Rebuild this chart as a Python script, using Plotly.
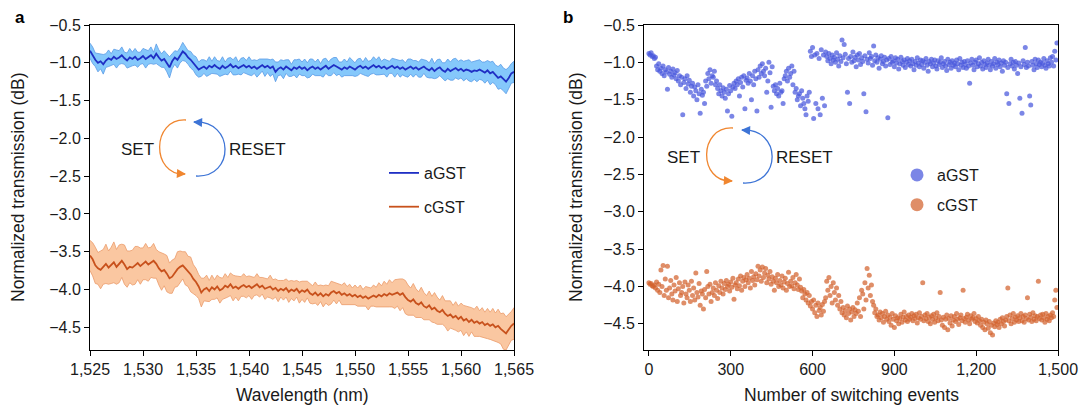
import numpy as np
import plotly.graph_objects as go

W, H = 1083, 410

# ---------------- Panel a data (wavelength sweep, 0.25 nm step) ----------------
wl_start, wl_step = 1525.0, 0.25
aGST_a = [
    -0.84, -0.90, -0.96, -1.00, -0.98, -1.02, -0.97, -0.94, -0.96, -0.92, -0.95, -0.93,
    -0.90, -0.94, -0.97, -0.93, -0.95, -0.92, -0.96, -0.94,
    -0.91, -0.95, -0.93, -0.90, -0.94, -0.88, -0.93, -0.97, -0.95, -1.00, -1.06, -0.98,
    -0.93, -0.96, -0.90, -0.85, -0.88, -0.93, -0.96, -1.00,
    -1.04, -1.09, -1.07, -1.05, -1.08, -1.04, -1.06, -1.03, -1.06, -1.08, -1.04, -1.07,
    -1.05, -1.02, -1.06, -1.04, -1.07, -1.05, -1.03, -1.06,
    -1.04, -1.07, -1.05, -1.08, -1.05, -1.03, -1.06, -1.04, -1.07, -1.05, -1.12, -1.08,
    -1.06, -1.09, -1.05, -1.07, -1.10, -1.06, -1.08, -1.05,
    -1.08, -1.06, -1.10, -1.07, -1.05, -1.08, -1.06, -1.09, -1.07, -1.04, -1.08, -1.06,
    -1.03, -1.05, -1.07, -1.09, -1.06, -1.08, -1.05, -1.07,
    -1.09, -1.06, -1.04, -1.07, -1.05, -1.08, -1.06, -1.03, -1.06, -1.04, -1.07, -1.05,
    -1.08, -1.06, -1.04, -1.07, -1.05, -1.08, -1.06, -1.09,
    -1.07, -1.05, -1.08, -1.06, -1.09, -1.07, -1.05, -1.08, -1.10, -1.07, -1.11, -1.08,
    -1.06, -1.10, -1.12, -1.08, -1.11, -1.09, -1.07, -1.10,
    -1.08, -1.11, -1.09, -1.10, -1.12, -1.10, -1.11, -1.09, -1.11, -1.13, -1.10, -1.14,
    -1.12, -1.16, -1.20, -1.18, -1.22, -1.25, -1.20, -1.14,
    -1.12,
]
aGST_a_err = [
    0.10, 0.11, 0.09, 0.12, 0.10, 0.13, 0.09, 0.11, 0.08, 0.10, 0.12, 0.09, 0.11, 0.08, 0.10, 0.12, 0.09, 0.11, 0.10, 0.08,
    0.10, 0.12, 0.09, 0.11, 0.08, 0.13, 0.10, 0.09, 0.11, 0.12, 0.14, 0.10, 0.09, 0.11, 0.10, 0.12, 0.10, 0.09, 0.11, 0.10,
    0.12, 0.10, 0.11, 0.09, 0.10, 0.12, 0.08, 0.11, 0.09, 0.10, 0.12, 0.08, 0.11, 0.09, 0.10, 0.12, 0.08, 0.11, 0.10, 0.09,
    0.12, 0.10, 0.09, 0.11, 0.10, 0.08, 0.12, 0.09, 0.11, 0.10, 0.13, 0.09, 0.10, 0.12, 0.09, 0.11, 0.08, 0.10, 0.12, 0.10,
    0.09, 0.11, 0.10, 0.12, 0.10, 0.09, 0.11, 0.08, 0.12, 0.10, 0.09, 0.11, 0.10, 0.12, 0.08, 0.10, 0.11, 0.09, 0.12, 0.10,
    0.09, 0.11, 0.10, 0.08, 0.12, 0.10, 0.09, 0.11, 0.10, 0.12, 0.09, 0.10, 0.11, 0.08, 0.10, 0.12, 0.09, 0.11, 0.10, 0.09,
    0.12, 0.10, 0.11, 0.09, 0.10, 0.12, 0.09, 0.11, 0.10, 0.13, 0.10, 0.12, 0.11, 0.10, 0.12, 0.13, 0.12, 0.14, 0.13, 0.12,
    0.12, 0.13, 0.12, 0.14, 0.13, 0.12, 0.14, 0.13, 0.12, 0.14, 0.13, 0.15, 0.14, 0.13, 0.15, 0.16, 0.15, 0.16, 0.14, 0.13,
    0.14,
]
cGST_a = [
    -3.55, -3.60, -3.68, -3.72, -3.74, -3.70, -3.66, -3.71, -3.68, -3.64, -3.70, -3.66,
    -3.62, -3.67, -3.73, -3.70, -3.71, -3.68, -3.65, -3.69,
    -3.66, -3.63, -3.67, -3.64, -3.62, -3.66, -3.72, -3.76, -3.74, -3.79, -3.85, -3.83,
    -3.78, -3.73, -3.70, -3.68, -3.72, -3.76, -3.80, -3.86,
    -3.90, -3.96, -4.04, -4.00, -3.98, -4.02, -3.97, -4.00, -3.96, -4.01, -3.99, -3.95,
    -3.97, -3.93, -3.98, -3.96, -3.99, -3.96, -3.94, -3.97,
    -3.95, -3.98, -3.96, -3.93, -3.97, -3.95, -3.99, -3.98, -3.96, -4.00, -3.98, -4.02,
    -3.99, -4.01, -3.98, -4.03, -4.00, -4.02, -3.99, -4.04,
    -4.01, -4.03, -4.00, -4.05, -4.07, -4.04, -4.08, -4.05, -4.09, -4.06, -4.08, -4.04,
    -4.02, -4.05, -4.03, -4.07, -4.05, -4.08, -4.06, -4.09,
    -4.07, -4.10, -4.08, -4.11, -4.09, -4.12, -4.10, -4.08, -4.10, -4.07, -4.09, -4.06,
    -4.08, -4.05, -4.07, -4.06, -4.04, -4.07, -4.05, -4.10,
    -4.14, -4.16, -4.13, -4.18, -4.20, -4.17, -4.22, -4.24, -4.21, -4.26, -4.24, -4.28,
    -4.30, -4.27, -4.32, -4.35, -4.33, -4.37, -4.35, -4.39,
    -4.36, -4.41, -4.39, -4.43, -4.40, -4.44, -4.42, -4.45, -4.43, -4.47, -4.45, -4.48,
    -4.46, -4.50, -4.48, -4.52, -4.55, -4.58, -4.53, -4.48,
    -4.45,
]
cGST_a_err = [
    0.20, 0.22, 0.24, 0.21, 0.25, 0.23, 0.26, 0.22, 0.24, 0.27, 0.23, 0.25, 0.22, 0.26, 0.24, 0.21, 0.23, 0.25, 0.22, 0.24,
    0.21, 0.24, 0.22, 0.20, 0.23, 0.19, 0.22, 0.25, 0.21, 0.24, 0.20, 0.22, 0.19, 0.23, 0.21, 0.18, 0.22, 0.20, 0.23, 0.19,
    0.18, 0.16, 0.19, 0.15, 0.17, 0.14, 0.16, 0.13, 0.15, 0.17, 0.14, 0.16, 0.13, 0.15, 0.17, 0.14, 0.16, 0.13, 0.15, 0.14,
    0.13, 0.15, 0.12, 0.14, 0.13, 0.11, 0.14, 0.12, 0.15, 0.13, 0.12, 0.14, 0.11, 0.13, 0.12, 0.14, 0.12, 0.13, 0.11, 0.14,
    0.12, 0.14, 0.11, 0.13, 0.12, 0.14, 0.13, 0.11, 0.14, 0.12, 0.13, 0.15, 0.12, 0.14, 0.11, 0.13, 0.14, 0.12, 0.13, 0.11,
    0.13, 0.12, 0.14, 0.11, 0.13, 0.15, 0.12, 0.14, 0.13, 0.16, 0.14, 0.17, 0.15, 0.18, 0.16, 0.19, 0.18, 0.21, 0.19, 0.22,
    0.20, 0.18, 0.21, 0.19, 0.17, 0.20, 0.18, 0.16, 0.19, 0.17, 0.20, 0.18, 0.16, 0.19, 0.17, 0.20, 0.18, 0.16, 0.19, 0.17,
    0.18, 0.20, 0.17, 0.19, 0.16, 0.18, 0.20, 0.17, 0.19, 0.17, 0.20, 0.18, 0.21, 0.19, 0.22, 0.20, 0.24, 0.22, 0.20, 0.19,
    0.21,
]

# ---------------- Panel b data (one point every 4 switching events) ----------------
event_step = 4
aGST_b = [
    -0.88, -0.90, -0.87, -0.92, -0.91, -0.95, -0.93, -1.05, -1.10, -1.02,
    -1.12, -1.08, -1.15, -1.05, -1.18, -1.10, -1.13, -1.36, -1.07, -1.16,
    -1.12, -1.20, -1.09, -1.17, -1.14, -1.22, -1.11, -1.25, -1.18, -1.30,
    -1.20, -1.70, -1.27, -1.22, -1.35, -1.18, -1.29, -1.24, -1.40, -1.32,
    -1.28, -1.45, -1.33, -1.38, -1.50, -1.30, -1.42, -1.68, -1.36, -1.44,
    -1.40, -1.55, -1.25, -1.32, -1.15, -1.22, -1.10, -1.28, -1.18, -1.20,
    -1.12, -1.30, -1.25, -1.35, -1.42, -1.30, -1.38, -1.45, -1.34, -1.40,
    -1.48, -1.36, -1.65, -1.42, -1.31, -1.38, -1.72, -1.33, -1.28, -1.35,
    -1.25, -1.30, -1.22, -1.45, -1.27, -1.20, -1.33, -1.18, -1.62, -1.24,
    -1.21, -1.28, -1.15, -1.25, -1.50, -1.18, -1.30, -1.12, -1.22, -1.65,
    -1.10, -1.20, -1.05, -1.15, -1.02, -1.12, -1.18, -1.08, -1.40, -1.25,
    -1.00, -1.14, -1.60, -1.06, -1.32, -1.38, -1.30, -1.42, -1.35, -1.45,
    -1.28, -1.40, -1.38, -1.55, -1.22, -1.18, -1.12, -1.25, -1.08, -1.20,
    -1.15, -1.05, -1.30, -1.12, -1.40, -1.35, -1.50, -1.45, -1.42, -1.58,
    -1.38, -1.48, -1.55, -1.62, -1.70, -1.45, -1.52, -1.40, -0.85, -0.92,
    -0.80, -1.75, -0.90, -1.55, -0.88, -1.62, -0.95, -1.70, -0.83, -1.48,
    -0.90, -1.58, -0.86, -0.92, -0.98, -0.88, -0.95, -1.02, -0.90, -0.97,
    -0.93, -1.00, -0.87, -0.96, -1.05, -0.91, -0.99, -0.70, -0.94, -0.76,
    -0.89, -1.02, -1.40, -0.95, -1.55, -0.92, -1.00, -0.86, -0.98, -0.93,
    -1.06, -0.90, -0.97, -0.88, -1.03, -0.94, -0.99, -1.42, -0.91, -1.66,
    -0.96, -1.01, -0.87, -0.95, -0.92, -1.04, -0.78, -0.98, -0.90, -1.00,
    -0.94, -1.08, -0.96, -0.91, -1.02, -0.99, -0.93, -1.05, -0.97, -1.74,
    -0.95, -1.03, -0.92, -1.00, -0.98, -1.06, -0.94, -1.01, -0.96, -1.09,
    -1.02, -0.93, -0.99, -1.04, -0.97, -1.07, -1.00, -0.95, -1.03, -0.98,
    -1.05, -0.96, -1.02, -1.10, -0.99, -1.04, -0.94, -1.01, -1.06, -0.97,
    -1.03, -0.98, -1.08, -1.00, -0.95, -1.04, -1.12, -0.99, -1.02, -0.96,
    -1.06, -1.01, -0.97, -1.05, -1.09, -0.98, -1.03, -1.00, -0.94, -1.07,
    -1.02, -0.99, -1.05, -1.11, -0.96, -1.03, -1.00, -1.08, -0.98, -1.04,
    -1.01, -1.06, -0.97, -1.02, -1.10, -0.95, -1.04, -1.00, -1.07, -0.99,
    -1.03, -1.08, -0.98, -1.05, -1.28, -1.01, -0.96, -1.04, -1.10, -1.00,
    -0.97, -1.06, -1.02, -0.94, -1.05, -1.00, -1.09, -0.98, -1.03, -1.07,
    -1.01, -0.96, -1.04, -1.10, -0.99, -1.05, -1.02, -0.95, -1.08, -1.00,
    -1.03, -0.97, -1.06, -1.01, -1.12, -0.98, -1.04, -1.00, -1.42, -1.07,
    -1.55, -1.02, -0.96, -1.05, -1.00, -1.09, -0.99, -1.04, -1.15, -1.01,
    -1.48, -1.06, -1.68, -0.98, -1.03, -0.80, -1.07, -1.00, -1.05, -1.45,
    -1.57, -0.99, -1.04, -1.10, -0.96, -1.02, -1.07, -0.97, -1.03, -1.00,
    -1.06, -1.01, -0.95, -1.04, -1.08, -0.98, -1.02, -1.05, -0.94, -1.00,
    -0.92, -1.05, -0.85, -0.97, -0.74,
]
cGST_b = [
    -3.95, -3.97, -3.96, -3.99, -4.00, -3.98, -4.02, -3.94, -4.05, -3.97,
    -4.08, -3.78, -4.00, -3.72, -4.12, -3.90, -4.05, -3.73, -4.15, -4.02,
    -3.92, -4.10, -4.18, -3.98, -4.06, -3.88, -4.20, -4.03, -3.95, -4.12,
    -4.08, -4.00, -4.22, -3.94, -4.10, -4.15, -3.98, -4.05, -4.20, -3.93,
    -4.12, -4.02, -4.18, -3.82, -4.08, -4.14, -3.96, -4.25, -4.06, -4.10,
    -4.30, -4.04, -4.15, -3.80, -4.00, -4.10, -3.97, -4.20, -4.08, -4.02,
    -4.12, -3.95, -4.05, -4.16, -3.99, -4.08, -3.93, -4.02, -4.10, -3.96,
    -4.04, -3.92, -4.00, -3.97, -4.06, -3.94, -4.01, -3.89, -4.17, -3.98,
    -3.95, -4.03, -3.90, -3.99, -3.86, -4.05, -3.93, -3.88, -4.00, -3.91,
    -3.84, -3.95, -3.89, -4.02, -3.80, -3.92, -3.87, -3.98, -3.83, -3.91,
    -3.73, -3.86, -3.78, -3.93, -3.74, -3.88, -3.82, -3.76, -3.95, -3.85,
    -3.90, -3.80, -3.97, -3.87, -3.93, -4.05, -3.89, -3.95, -3.84, -4.00,
    -3.92, -3.98, -3.86, -4.02, -3.94, -3.89, -4.05, -3.96, -3.81, -4.00,
    -3.93, -3.99, -3.88, -4.03, -3.95, -3.84, -3.98, -4.04, -3.90, -4.01,
    -4.06, -4.15, -4.04, -4.10, -4.18, -4.08, -4.22, -4.12, -4.26, -4.20,
    -4.30, -4.18, -4.35, -4.25, -4.40, -4.22, -4.32, -4.28, -4.38, -4.24,
    -4.33, -4.20, -4.15, -3.93, -4.05, -3.88, -4.12, -4.00, -4.22, -3.95,
    -4.08, -4.18, -4.02, -4.25, -4.12, -4.30, -4.20, -4.35, -4.28, -4.38,
    -4.32, -4.42, -4.26, -4.36, -4.30, -4.45, -4.34, -4.28, -4.40, -4.31,
    -4.36, -4.22, -4.33, -4.15, -4.40, -4.05, -4.10, -4.30, -3.95, -4.18,
    -3.76, -4.02, -3.85, -4.12, -3.98, -4.20, -4.25, -4.35, -4.30, -4.40,
    -4.38, -4.45, -4.34, -4.42, -4.36, -4.48, -4.40, -4.33, -4.44, -4.38,
    -4.47, -4.41, -4.52, -4.36, -4.44, -4.55, -4.39, -4.46, -4.42, -4.50,
    -4.43, -4.37, -4.48, -4.41, -4.34, -4.45, -4.40, -4.47, -4.38, -4.44,
    -4.41, -4.36, -4.46, -4.39, -4.43, -4.37, -4.49, -4.42, -4.35, -4.44,
    -4.40, -3.95, -4.46, -4.38, -4.43, -4.36, -4.47, -4.41, -4.50, -4.39,
    -4.44, -4.37, -4.48, -4.42, -4.35, -4.46, -4.40, -4.08, -4.45, -4.52,
    -4.41, -4.55, -4.44, -4.38, -4.58, -4.43, -4.49, -4.39, -4.53, -4.45,
    -4.40, -4.47, -4.36, -4.44, -4.51, -4.42, -4.38, -4.46, -4.05, -4.43,
    -4.48, -4.41, -4.37, -4.45, -4.50, -4.39, -4.44, -4.42, -4.36, -4.47,
    -4.43, -4.49, -4.40, -4.46, -4.52, -4.44, -4.55, -4.48, -4.58, -4.45,
    -4.50, -4.56, -4.47, -4.62, -4.52, -4.65, -4.49, -4.54, -4.46, -4.51,
    -4.48, -4.55, -4.44, -4.50, -4.42, -4.47, -4.53, -4.45, -4.40, -4.02,
    -4.46, -4.38, -4.50, -4.43, -4.36, -4.48, -4.41, -4.45, -4.39, -4.47,
    -4.42, -4.36, -4.46, -4.40, -4.48, -4.38, -4.43, -4.15, -4.45, -4.37,
    -4.41, -4.47, -4.35, -4.44, -4.39, -4.46, -4.40, -3.93, -4.43, -4.38,
    -4.45, -4.37, -4.42, -4.48, -4.36, -4.44, -4.40, -4.46, -4.38, -4.42,
    -4.35, -4.40, -4.18, -4.05, -4.28,
]

series_names = ["aGST", "cGST"]
wl_ticks = [1525, 1530, 1535, 1540, 1545, 1550, 1555, 1560, 1565]
ev_ticks = [0, 300, 600, 900, 1200, 1500]
y_ticks = [-0.5, -1.0, -1.5, -2.0, -2.5, -3.0, -3.5, -4.0, -4.5]
y_ticktext = [f"{v:.1f}".replace("-", "\u2212") for v in y_ticks]

# ---------------- styling ----------------
FONT = "Liberation Sans, Arial, Helvetica, sans-serif"
TXT = "#1a1a1a"
BLUE_LINE, BLUE_FILL, BLUE_EDGE = "#1f2fc4", "rgba(112,190,250,0.85)", "#5b9ae6"
OR_LINE, OR_FILL, OR_EDGE = "#c8511c", "rgba(250,196,156,0.95)", "#eb9a6a"
BLUE_PT, OR_PT = "rgba(72,88,220,0.72)", "rgba(210,98,46,0.72)"


def px(x):
    return x / W


def py(y):
    return 1 - y / H


wl = wl_start + wl_step * np.arange(len(aGST_a))
aA, aE = np.array(aGST_a), np.array(aGST_a_err)
cA, cE = np.array(cGST_a), np.array(cGST_a_err)
ev = event_step * np.arange(len(aGST_b))
ev_c = event_step * np.arange(len(cGST_b))

fig = go.Figure()
for mean, err, fillc, edgec in [(aA, aE, BLUE_FILL, BLUE_EDGE), (cA, cE, OR_FILL, OR_EDGE)]:
    fig.add_trace(go.Scatter(
        x=np.concatenate([wl, wl[::-1]]),
        y=np.concatenate([mean + err, (mean - err)[::-1]]),
        fill="toself", fillcolor=fillc, mode="lines",
        line=dict(color=edgec, width=0.8), showlegend=False, hoverinfo="skip",
        xaxis="x", yaxis="y"))
for mean, col, name in [(aA, BLUE_LINE, series_names[0]), (cA, OR_LINE, series_names[1])]:
    fig.add_trace(go.Scatter(x=wl, y=mean, mode="lines", name=name,
                             line=dict(color=col, width=1.8), legend="legend",
                             legendgroup="a_" + name, xaxis="x", yaxis="y"))

fig.add_trace(go.Scatter(x=ev, y=aGST_b, mode="markers", showlegend=False,
                         marker=dict(color=BLUE_PT, size=5), xaxis="x2", yaxis="y2"))
fig.add_trace(go.Scatter(x=ev_c, y=cGST_b, mode="markers", showlegend=False,
                         marker=dict(color=OR_PT, size=5), xaxis="x2", yaxis="y2"))
for col, name in [(BLUE_PT, series_names[0]), (OR_PT, series_names[1])]:
    fig.add_trace(go.Scatter(x=[None], y=[None], mode="markers", name=name,
                             marker=dict(color=col, size=13), legend="legend2",
                             legendgroup="b_" + name, xaxis="x2", yaxis="y2"))

axis_common = dict(showline=True, mirror=True, linecolor="black", linewidth=1,
                   ticks="outside", ticklen=5, tickwidth=1, tickcolor="black",
                   showgrid=False, zeroline=False, automargin=False,
                   tickfont=dict(family=FONT, size=16, color=TXT))

fig.update_layout(
    width=W, height=H, margin=dict(l=0, r=0, t=0, b=0, pad=0, autoexpand=False),
    paper_bgcolor="white", plot_bgcolor="white",
    font=dict(family=FONT, size=16, color=TXT),
    xaxis=dict(domain=[px(90), px(514)], range=[1525, 1565], tickvals=wl_ticks,
               tickformat=",d", anchor="y", **axis_common),
    yaxis=dict(domain=[py(350), py(25)], range=[-4.8, -0.5], tickvals=y_ticks,
               ticktext=y_ticktext, anchor="x", **axis_common),
    xaxis2=dict(domain=[px(644), px(1058)], range=[-18, 1500], tickvals=ev_ticks,
                tickformat=",d", anchor="y2", **axis_common),
    yaxis2=dict(domain=[py(350), py(25)], range=[-4.85, -0.5], tickvals=y_ticks,
                ticktext=y_ticktext, anchor="x2", **axis_common),
    legend=dict(x=px(384), y=py(156), xanchor="left", yanchor="top",
                bgcolor="rgba(0,0,0,0)", font=dict(size=16, color=TXT),
                tracegroupgap=10),
    legend2=dict(x=px(897), y=py(158), xanchor="left", yanchor="top",
                 bgcolor="rgba(0,0,0,0)", font=dict(size=16, color=TXT),
                 tracegroupgap=6),
)

ann = []


def label(text, x, y, size, angle=0, color=TXT):
    ann.append(dict(text=text, x=px(x), y=py(y), xref="paper", yref="paper",
                    xanchor="center", yanchor="middle", showarrow=False,
                    textangle=angle, font=dict(size=size, color=color)))


# panel letters
label("<b>a</b>", 20, 17, 17, color="black")
label("<b>b</b>", 568, 17, 17, color="black")
# axis titles
label("Normalized transmission (dB)", 18, 187, 17.5, -90)
label("Normalized transmission (dB)", 576, 187, 17.5, -90)
label("Wavelength (nm)", 302, 395, 17.5)
label("Number of switching events", 851, 395, 17.5)

# SET / RESET cycle diagrams
ORANGE_ARC, BLUE_ARC = "#f0862f", "#3d74d6"
shapes = []


def cycle(cx_set, cx_reset, ty, o_start, o_ctrl_x, o_end, b_start, b_ctrl_x, b_end):
    label("SET", cx_set, ty, 17)
    label("RESET", cx_reset, ty, 17)
    (ox0, oy0), (ox1, oy1) = o_start, o_end
    path_o = (f"M {px(ox0)},{py(oy0)} C {px(o_ctrl_x)},{py(oy0 - 2)} "
              f"{px(o_ctrl_x)},{py(oy1 + 2)} {px(ox1)},{py(oy1)}")
    (bx0, by0), (bx1, by1) = b_start, b_end
    path_b = (f"M {px(bx0)},{py(by0)} C {px(b_ctrl_x)},{py(by0 + 2)} "
              f"{px(b_ctrl_x)},{py(by1 - 2)} {px(bx1)},{py(by1)}")
    shapes.append(dict(type="path", path=path_o, xref="paper", yref="paper",
                       line=dict(color=ORANGE_ARC, width=1.3)))
    shapes.append(dict(type="path", path=path_b, xref="paper", yref="paper",
                       line=dict(color=BLUE_ARC, width=1.3)))
    ann.append(dict(text="", x=px(ox1 + 1), y=py(oy1), xref="paper", yref="paper",
                    showarrow=True, ax=-9, ay=-0.5, arrowhead=2, arrowsize=1.4,
                    arrowwidth=1.3, arrowcolor=ORANGE_ARC))
    ann.append(dict(text="", x=px(bx1 - 1), y=py(by1), xref="paper", yref="paper",
                    showarrow=True, ax=9, ay=0.5, arrowhead=2, arrowsize=1.4,
                    arrowwidth=1.3, arrowcolor=BLUE_ARC))


cycle(137, 257, 149, (186, 120), 151, (185, 174), (196, 176), 235, (194, 122))
cycle(683, 804, 157, (733, 128), 698, (732, 181), (743, 183), 782, (742, 130))

fig.update_layout(annotations=ann, shapes=shapes)
fig.write_html("out.html")
